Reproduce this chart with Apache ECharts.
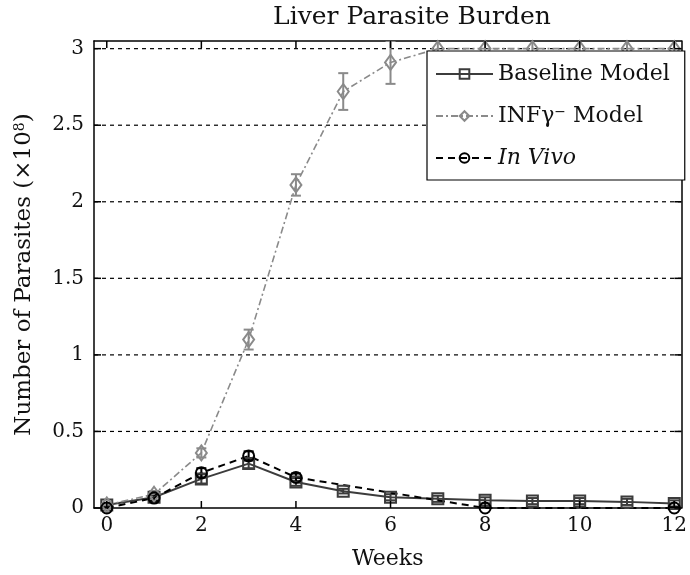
<!DOCTYPE html>
<html>
<head>
<meta charset="utf-8">
<script src="https://cdn.jsdelivr.net/npm/echarts@6/dist/echarts.min.js"></script>
<style>
  html, body { margin: 0; padding: 0; background: #fff; }
  #chart { width: 690px; height: 575px; }
</style>
</head>
<body>
<div id="chart"></div>
<script>
// Weeks after infection
const weeks = [0, 1, 2, 3, 4, 5, 6, 7, 8, 9, 10, 11, 12];

// Baseline model (x10^8 parasites) and error half-widths
const baseline    = [0.02, 0.07, 0.19, 0.29, 0.17, 0.11, 0.07, 0.06, 0.05, 0.045, 0.045, 0.04, 0.03];
const baselineErr = [0.01, 0.02, 0.03, 0.03, 0.025, 0.015, 0.02, 0.02, 0.02, 0.02, 0.02, 0.02, 0.02];

// IFN-gamma knockout model
const infModel    = [0.02, 0.09, 0.36, 1.10, 2.11, 2.72, 2.91, 3.0, 3.0, 3.0, 3.0, 3.0, 3.0];
const infErr      = [0.01, 0.02, 0.03, 0.065, 0.07, 0.12, 0.14, 0.08, 0.08, 0.08, 0.08, 0.08, 0.08];

// Experimental measurements
const vivoWeeks   = [0, 1, 2, 3, 4, 8, 12];
const vivo        = [0.0, 0.065, 0.23, 0.34, 0.20, 0.0, 0.0];
const vivoErr     = [0.005, 0.02, 0.03, 0.03, 0.025, 0.005, 0.005];

const xTicks = [0, 2, 4, 6, 8, 10, 12];
const yTicks = [0, 0.5, 1, 1.5, 2, 2.5, 3];

const FONT = 'DejaVu Serif';
const C_BASE = '#3c3c3c';
const C_INF = '#8a8a8a';
const C_VIVO = '#000000';

const pairs = (xs, ys) => xs.map((x, i) => [x, ys[i]]);
const bars = (xs, ys, es) => xs.map((x, i) => [x, ys[i] - es[i], ys[i] + es[i]]);

const XMIN = -0.27, XMAX = 12.15, YMIN = 0, YMAX = 3.05;
const TICK_LEN = 7;

function errorSeries(data, color, width) {
  return {
    type: 'custom',
    xAxisIndex: 0,
    yAxisIndex: 0,
    clip: true,
    silent: true,
    z: 2,
    data: data,
    renderItem: function (params, api) {
      const x = api.value(0);
      const lo = api.coord([x, api.value(1)]);
      const hi = api.coord([x, api.value(2)]);
      const cap = 5;
      const style = { stroke: color, lineWidth: width };
      return {
        type: 'group',
        children: [
          { type: 'line', shape: { x1: lo[0], y1: lo[1], x2: hi[0], y2: hi[1] }, style: style },
          { type: 'line', shape: { x1: lo[0] - cap, y1: lo[1], x2: lo[0] + cap, y2: lo[1] }, style: style },
          { type: 'line', shape: { x1: hi[0] - cap, y1: hi[1], x2: hi[0] + cap, y2: hi[1] }, style: style }
        ]
      };
    }
  };
}

// Inward tick marks on all four sides of the plot box
function tickSeries(xVals, yVals) {
  const items = xVals.map(v => [v, YMIN, 0]).concat(yVals.map(v => [XMIN, v, 1]));
  return {
    type: 'custom', xAxisIndex: 0, yAxisIndex: 0, silent: true, clip: false, z: 5,
    data: items,
    renderItem: function (params, api) {
      const vx = api.value(0);
      const vy = api.value(1);
      const horiz = api.value(2) === 1;
      const style = { stroke: '#000', lineWidth: 1.5 };
      if (!horiz) {
        const a = api.coord([vx, YMIN]);
        const b = api.coord([vx, YMAX]);
        return { type: 'group', children: [
          { type: 'line', shape: { x1: a[0], y1: a[1], x2: a[0], y2: a[1] - TICK_LEN }, style: style },
          { type: 'line', shape: { x1: b[0], y1: b[1], x2: b[0], y2: b[1] + TICK_LEN }, style: style }
        ] };
      }
      const a = api.coord([XMIN, vy]);
      const b = api.coord([XMAX, vy]);
      return { type: 'group', children: [
        { type: 'line', shape: { x1: a[0], y1: a[1], x2: a[0] + TICK_LEN, y2: a[1] }, style: style },
        { type: 'line', shape: { x1: b[0], y1: b[1], x2: b[0] - TICK_LEN, y2: b[1] }, style: style }
      ] };
    }
  };
}

const axisLineStyle = { show: true, onZero: false, lineStyle: { color: '#000', width: 1.5 } };
const supStyle = { fontFamily: FONT, fontSize: 14, color: '#111', verticalAlign: 'top', padding: [0, 0, 9, 0] };

const option = {
  animation: false,
  backgroundColor: '#fff',
  title: {
    text: 'Liver Parasite Burden',
    left: 407,
    textAlign: 'center',
    top: 0,
    textStyle: { fontFamily: FONT, fontWeight: 'normal', fontSize: 25, color: '#111' }
  },
  grid: { left: 94, right: 4, top: 41, bottom: 64 },
  legend: {
    orient: 'vertical',
    left: 427,
    top: 51,
    z: 20,
    padding: [12, 15, 11, 8],
    itemWidth: 57,
    itemHeight: 12,
    itemGap: 20,
    backgroundColor: '#fff',
    borderColor: '#000',
    borderWidth: 1.2,
    borderRadius: 0,
    textStyle: {
      fontFamily: FONT, fontSize: 22, lineHeight: 22, color: '#111',
      rich: {
        it: { fontFamily: FONT, fontStyle: 'italic', fontSize: 22, lineHeight: 22, color: '#111' },
        sup: supStyle
      }
    },
    formatter: function (name) {
      if (name === 'INF') return 'INFγ{sup|−} Model';
      if (name === 'In Vivo') return '{it|In Vivo}';
      return name;
    },
    data: ['Baseline Model', 'INF', 'In Vivo']
  },
  xAxis: [
    {
      type: 'value', min: XMIN, max: XMAX, position: 'bottom',
      name: 'Weeks', nameLocation: 'middle', nameGap: 40,
      nameTextStyle: { fontFamily: FONT, fontSize: 22, color: '#111' },
      axisLine: axisLineStyle,
      axisTick: { show: false },
      axisLabel: { customValues: xTicks, fontFamily: FONT, fontSize: 20, color: '#111', margin: 8 },
      splitLine: { show: false }
    },
    {
      type: 'value', min: XMIN, max: XMAX, position: 'top',
      axisLine: axisLineStyle,
      axisTick: { show: false },
      axisLabel: { show: false },
      splitLine: { show: false }
    }
  ],
  yAxis: [
    {
      type: 'value', min: YMIN, max: YMAX, position: 'left',
      name: 'Number of Parasites (×10{sup|8})', nameLocation: 'middle', nameGap: 58, nameRotate: 90,
      nameTextStyle: {
        fontFamily: FONT, fontSize: 23, color: '#111',
        rich: { sup: supStyle }
      },
      axisLine: axisLineStyle,
      axisTick: { show: false },
      axisLabel: { customValues: yTicks, fontFamily: FONT, fontSize: 20, color: '#111', margin: 10 },
      splitLine: { show: false }
    },
    {
      type: 'value', min: YMIN, max: YMAX, position: 'right',
      axisLine: axisLineStyle,
      axisTick: { show: false },
      axisLabel: { show: false },
      splitLine: { show: false }
    }
  ],
  series: [
    // dashed horizontal grid lines at each y tick
    {
      type: 'custom', xAxisIndex: 0, yAxisIndex: 0, silent: true, z: 1,
      data: yTicks.filter(v => v > 0).map(v => [XMIN, v]),
      renderItem: function (params, api) {
        const y = api.value(1);
        const a = api.coord([XMIN, y]);
        const b = api.coord([XMAX, y]);
        return { type: 'line', shape: { x1: a[0], y1: a[1], x2: b[0], y2: b[1] },
                 style: { stroke: '#000', lineWidth: 1.2, lineDash: [4, 4] } };
      }
    },
    tickSeries(xTicks, yTicks),
    errorSeries(bars(weeks, baseline, baselineErr), C_BASE, 2),
    errorSeries(bars(weeks, infModel, infErr), C_INF, 2),
    errorSeries(bars(vivoWeeks, vivo, vivoErr), C_VIVO, 2),
    {
      name: 'Baseline Model', type: 'line', xAxisIndex: 0, yAxisIndex: 0, z: 2,
      data: pairs(weeks, baseline),
      symbol: 'rect', symbolSize: 11,
      lineStyle: { color: C_BASE, width: 2, type: 'solid' },
      itemStyle: { color: 'rgba(255,255,255,0)', borderColor: C_BASE, borderWidth: 2 }
    },
    {
      name: 'INF', type: 'line', xAxisIndex: 0, yAxisIndex: 0, z: 2,
      data: pairs(weeks, infModel),
      symbol: 'diamond', symbolSize: [11, 15],
      lineStyle: { color: C_INF, width: 1.6, type: [7, 3, 2, 3] },
      itemStyle: { color: 'rgba(255,255,255,0)', borderColor: C_INF, borderWidth: 2 }
    },
    {
      name: 'In Vivo', type: 'line', xAxisIndex: 0, yAxisIndex: 0, z: 2,
      data: pairs(vivoWeeks, vivo),
      symbol: 'circle', symbolSize: 11,
      lineStyle: { color: C_VIVO, width: 2, type: [7, 5] },
      itemStyle: { color: 'rgba(255,255,255,0)', borderColor: C_VIVO, borderWidth: 2 }
    }
  ]
};

const chart = echarts.init(document.getElementById('chart'), null, { renderer: 'canvas' });
chart.setOption(option);
</script>
</body>
</html>
